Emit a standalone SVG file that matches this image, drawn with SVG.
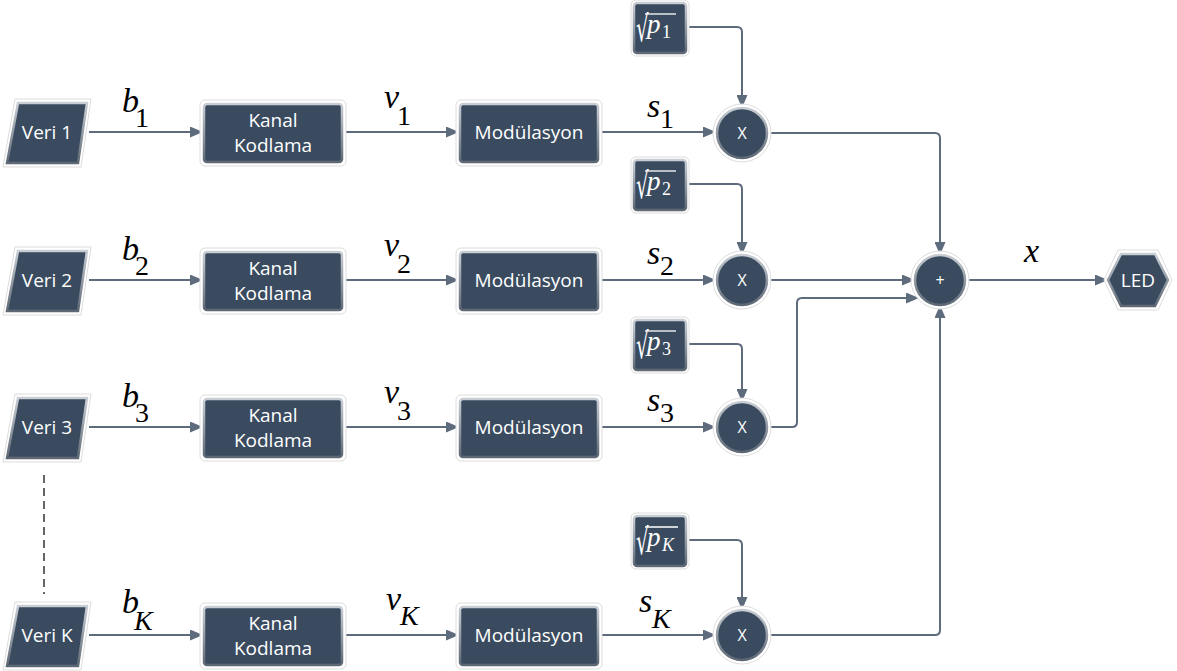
<svg xmlns="http://www.w3.org/2000/svg" width="1177" height="671" viewBox="0 0 1177 671">
<defs>
<linearGradient id="bev" x1="0" y1="0" x2="0" y2="1">
<stop offset="0" stop-color="#c9ced4"/>
<stop offset="1" stop-color="#5e6874"/>
</linearGradient>
<marker id="ah" markerUnits="userSpaceOnUse" markerWidth="13" markerHeight="11" refX="13" refY="5.5" orient="auto">
<path d="M0,0 L13,5.5 L0,11 z" fill="#5d6b7d"/>
</marker>
<style>
.halo{fill:#fff;stroke:#dcdcdc;stroke-width:1}
.box{fill:#3a4b60;stroke:url(#bev);stroke-width:2.5}
.lbl{font-family:"Open Sans","Liberation Sans",sans-serif;font-size:19px;fill:#fff;text-anchor:middle}
.sm{font-family:"Open Sans","Liberation Sans",sans-serif;font-size:16px;fill:#fff;text-anchor:middle}
.conn{fill:none;stroke:#5d6b7d;stroke-width:2;marker-end:url(#ah)}
.m{font-family:"Liberation Serif","Times New Roman",serif;font-size:34px;font-style:italic;fill:#000}
.sub{font-family:"Liberation Serif","Times New Roman",serif;font-size:28px;fill:#000}
.subi{font-family:"Liberation Serif","Times New Roman",serif;font-size:28px;font-style:italic;fill:#000}
.rad{font-family:"DejaVu Serif","Liberation Serif",serif;font-size:36px;fill:#fff}
.rp{font-family:"Liberation Serif","Times New Roman",serif;font-size:27px;font-style:italic;fill:#fff}
.rs{font-family:"Liberation Serif","Times New Roman",serif;font-size:18px;fill:#fff}
.rsi{font-family:"Liberation Serif","Times New Roman",serif;font-size:18px;font-style:italic;fill:#fff}
.vin{stroke:#fff;stroke-width:1.3}
</style>
</defs>
<rect width="1177" height="671" fill="#fff"/>

<!-- connectors -->
<g id="connectors">
<path class="conn" d="M89,132 H203"/>
<path class="conn" d="M344,132 H459"/>
<path class="conn" d="M599,132 H716"/>
<path class="conn" d="M89,280 H203"/>
<path class="conn" d="M344,280 H459"/>
<path class="conn" d="M599,280 H716"/>
<path class="conn" d="M89,427 H203"/>
<path class="conn" d="M344,427 H459"/>
<path class="conn" d="M599,427 H716"/>
<path class="conn" d="M89,635 H203"/>
<path class="conn" d="M344,635 H459"/>
<path class="conn" d="M599,635 H716"/>
<path class="conn" d="M688,27 H737 Q742,27 742,32 V108"/>
<path class="conn" d="M688,184 H737 Q742,184 742,189 V255"/>
<path class="conn" d="M688,344 H737 Q742,344 742,349 V402"/>
<path class="conn" d="M688,540 H737 Q742,540 742,545 V610"/>
<path class="conn" d="M767,133 H935 Q940,133 940,138 V255"/>
<path class="conn" d="M767,280 H915"/>
<path class="conn" d="M767,427 H792 Q797,427 797,422 V303 Q797,298 802,298 H919"/>
<path class="conn" d="M767,635 H935 Q940,635 940,630 V305"/>
<path class="conn" d="M965,280 H1108"/>
<line x1="44" y1="475" x2="44" y2="594" stroke="#333" stroke-width="1.5" stroke-dasharray="8,5"/>
</g>

<!-- Veri nodes -->
<g id="veri1"><polygon class="halo" points="15,99 91,99 81,167 3,167"/><polygon class="box" points="18,103 87,103 78,163 7,163"/><text class="lbl" x="47" y="139">Veri 1</text></g>
<g id="veri2"><polygon class="halo" points="15,247 91,247 81,315 3,315"/><polygon class="box" points="18,251 87,251 78,311 7,311"/><text class="lbl" x="47" y="287">Veri 2</text></g>
<g id="veri3"><polygon class="halo" points="15,394 91,394 81,462 3,462"/><polygon class="box" points="18,398 87,398 78,458 7,458"/><text class="lbl" x="47" y="434">Veri 3</text></g>
<g id="veriK"><polygon class="halo" points="15,602 91,602 81,670 3,670"/><polygon class="box" points="18,606 87,606 78,666 7,666"/><text class="lbl" x="47" y="642">Veri K</text></g>

<!-- Kanal Kodlama -->
<g id="kanal1"><rect class="halo" x="200" y="100" width="146" height="66" rx="5"/><rect class="box" x="204" y="104" width="138" height="58" rx="3"/><text class="lbl" x="273" y="127">Kanal</text><text class="lbl" x="273" y="152">Kodlama</text></g>
<g id="kanal2"><rect class="halo" x="200" y="248" width="146" height="66" rx="5"/><rect class="box" x="204" y="252" width="138" height="58" rx="3"/><text class="lbl" x="273" y="275">Kanal</text><text class="lbl" x="273" y="300">Kodlama</text></g>
<g id="kanal3"><rect class="halo" x="200" y="395" width="146" height="66" rx="5"/><rect class="box" x="204" y="399" width="138" height="58" rx="3"/><text class="lbl" x="273" y="422">Kanal</text><text class="lbl" x="273" y="447">Kodlama</text></g>
<g id="kanalK"><rect class="halo" x="200" y="603" width="146" height="66" rx="5"/><rect class="box" x="204" y="607" width="138" height="58" rx="3"/><text class="lbl" x="273" y="630">Kanal</text><text class="lbl" x="273" y="655">Kodlama</text></g>

<!-- Modulasyon -->
<g id="mod1"><rect class="halo" x="456" y="100" width="146" height="66" rx="5"/><rect class="box" x="460" y="104" width="138" height="58" rx="3"/><text class="lbl" x="529" y="139">Modülasyon</text></g>
<g id="mod2"><rect class="halo" x="456" y="248" width="146" height="66" rx="5"/><rect class="box" x="460" y="252" width="138" height="58" rx="3"/><text class="lbl" x="529" y="287">Modülasyon</text></g>
<g id="mod3"><rect class="halo" x="456" y="395" width="146" height="66" rx="5"/><rect class="box" x="460" y="399" width="138" height="58" rx="3"/><text class="lbl" x="529" y="434">Modülasyon</text></g>
<g id="modK"><rect class="halo" x="456" y="603" width="146" height="66" rx="5"/><rect class="box" x="460" y="607" width="138" height="58" rx="3"/><text class="lbl" x="529" y="642">Modülasyon</text></g>

<!-- sqrt power boxes -->
<g id="sqrt1"><rect class="halo" x="631" y="0" width="58" height="56" rx="5"/><rect class="box" x="634" y="3" width="52" height="50" rx="3"/>
<text class="rad" transform="translate(636,41) scale(0.55,1)">√</text><line class="vin" x1="645" y1="14" x2="676" y2="14"/><text class="rp" x="647" y="33">p</text><text class="rs" x="662" y="38">1</text></g>
<g id="sqrt2"><rect class="halo" x="631" y="157" width="58" height="56" rx="5"/><rect class="box" x="634" y="160" width="52" height="50" rx="3"/>
<text class="rad" transform="translate(636,198) scale(0.55,1)">√</text><line class="vin" x1="645" y1="171" x2="676" y2="171"/><text class="rp" x="647" y="190">p</text><text class="rs" x="662" y="195">2</text></g>
<g id="sqrt3"><rect class="halo" x="631" y="317" width="58" height="56" rx="5"/><rect class="box" x="634" y="320" width="52" height="50" rx="3"/>
<text class="rad" transform="translate(636,358) scale(0.55,1)">√</text><line class="vin" x1="645" y1="331" x2="676" y2="331"/><text class="rp" x="647" y="350">p</text><text class="rs" x="662" y="355">3</text></g>
<g id="sqrtK"><rect class="halo" x="631" y="513" width="58" height="56" rx="5"/><rect class="box" x="634" y="516" width="52" height="50" rx="3"/>
<text class="rad" transform="translate(636,554) scale(0.55,1)">√</text><line class="vin" x1="645" y1="527" x2="678" y2="527"/><text class="rp" x="647" y="546">p</text><text class="rsi" x="662" y="551">K</text></g>

<!-- multipliers -->
<g id="mul1"><circle class="halo" cx="742" cy="133" r="29"/><circle class="box" cx="742" cy="133" r="25"/><text class="sm" x="742" y="139">X</text></g>
<g id="mul2"><circle class="halo" cx="742" cy="280" r="29"/><circle class="box" cx="742" cy="280" r="25"/><text class="sm" x="742" y="286">X</text></g>
<g id="mul3"><circle class="halo" cx="742" cy="427" r="29"/><circle class="box" cx="742" cy="427" r="25"/><text class="sm" x="742" y="433">X</text></g>
<g id="mulK"><circle class="halo" cx="742" cy="635" r="29"/><circle class="box" cx="742" cy="635" r="25"/><text class="sm" x="742" y="641">X</text></g>

<!-- sum -->
<g id="sum"><circle class="halo" cx="940" cy="280" r="29"/><circle class="box" cx="940" cy="280" r="25"/><text class="sm" x="940" y="286">+</text></g>

<!-- LED -->
<g id="led"><polygon class="halo" points="1104,280 1118,250 1158,250 1172,280 1158,310 1118,310"/><polygon class="box" points="1108,280 1121,254 1155,254 1168,280 1155,306 1121,306"/><text class="lbl" x="1138" y="287">LED</text></g>

<!-- math labels -->
<g id="labels">
<text class="m" x="122" y="112">b</text><text class="sub" x="135" y="127">1</text>
<text class="m" x="384" y="108">v</text><text class="sub" x="397" y="125">1</text>
<text class="m" x="647" y="117">s</text><text class="sub" x="660" y="128">1</text>
<text class="m" x="122" y="260">b</text><text class="sub" x="135" y="275">2</text>
<text class="m" x="384" y="256">v</text><text class="sub" x="397" y="273">2</text>
<text class="m" x="647" y="264">s</text><text class="sub" x="660" y="275">2</text>
<text class="m" x="122" y="407">b</text><text class="sub" x="135" y="422">3</text>
<text class="m" x="384" y="403">v</text><text class="sub" x="397" y="420">3</text>
<text class="m" x="647" y="411">s</text><text class="sub" x="660" y="422">3</text>
<text class="m" x="122" y="613">b</text><text class="subi" x="134" y="630">K</text>
<text class="m" x="386" y="610">v</text><text class="subi" x="400" y="625">K</text>
<text class="m" x="639" y="612">s</text><text class="subi" x="652" y="628">K</text>
<text class="m" x="1024" y="262">x</text>
</g>
</svg>
